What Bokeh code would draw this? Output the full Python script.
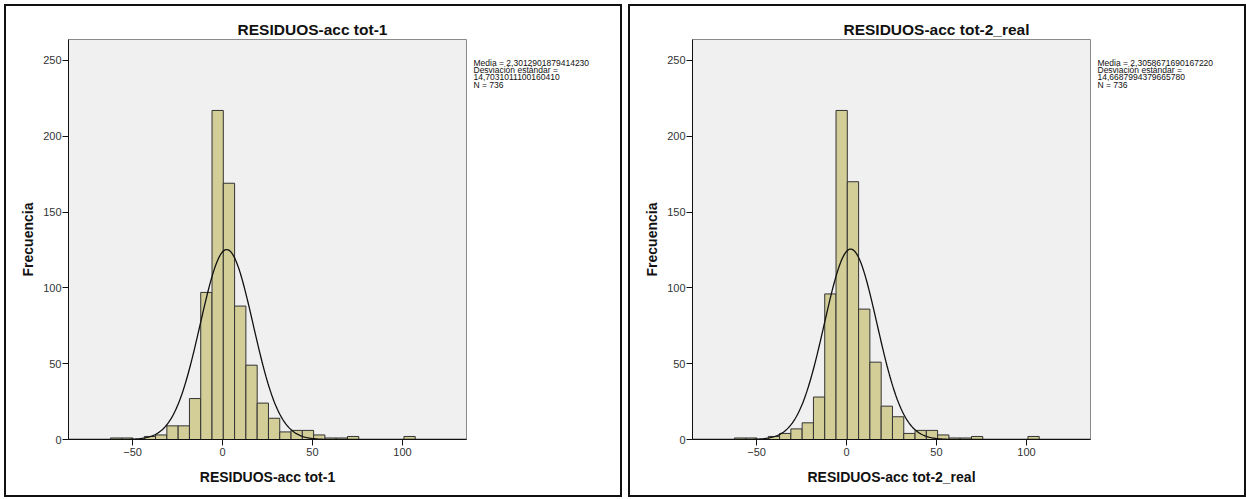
import numpy as np
from bokeh.plotting import figure
from bokeh.models import FixedTicker, Range1d, LinearAxis, AllLabels
from bokeh.layouts import row
from bokeh.embed import file_html
from bokeh.resources import INLINE

# Histogram bins shared by both residual series
bin_start = -62.3
bin_width = 6.274
counts_1 = [1, 1, 0, 2, 3, 9, 9, 27, 97, 217, 169, 88, 49, 24, 14, 5, 6, 6, 3, 1, 1, 2, 0, 0, 0, 0, 2]
counts_2 = [1, 1, 0, 2, 4, 7, 11, 28, 96, 217, 170, 86, 51, 22, 15, 4, 6, 6, 3, 1, 1, 2, 0, 0, 0, 0, 2]

titles = ["RESIDUOS-acc tot-1", "RESIDUOS-acc tot-2_real"]
means = [2.3012901879414230, 2.3058671690167220]
sds = [14.7031011100160410, 14.6687994379665780]
mean_texts = ["2,3012901879414230", "2,3058671690167220"]
sd_texts = ["14,7031011100160410", "14,6687994379665780"]
n_obs = 736

x_ticks = [-50, 0, 50, 100]
y_ticks = [0, 50, 100, 150, 200, 250]

FONT = "Liberation Sans"
BAR_FILL = "#d3ce97"
X_LO, X_HI = -85.6, 135.6
Y_HI = 263.8
TITLE_PX = 15.5
# vertical slots (in count units) for the four summary lines beside the frame
STAT_ROWS = [248.4, 243.6, 238.8, 234.0]

# Advance widths (em) of the bold sans glyphs used in the titles
BOLD_EM = {"R": .722, "E": .667, "S": .667, "I": .278, "D": .722, "U": .722, "O": .778,
           "-": .333, "a": .556, "c": .556, " ": .278, "t": .333, "o": .611, "1": .556,
           "2": .556, "_": .556, "r": .389, "e": .556, "l": .278}


def text_width(s, size):
    return sum(BOLD_EM.get(ch, .6) for ch in s) * size


def panel(counts, title, mean, sd, mean_txt, sd_txt):
    edges = bin_start + bin_width * np.arange(len(counts) + 1)
    left_b, right_b = 62, 158
    p = figure(width=618, height=493, output_backend="svg", toolbar_location=None,
               x_range=Range1d(X_LO, X_HI), y_range=Range1d(0, Y_HI),
               min_border_left=left_b, min_border_right=right_b,
               min_border_top=33, min_border_bottom=60,
               background_fill_color="#f0f0f0", border_fill_color="white",
               styles={"border": "2px solid #111111"})
    p.grid.visible = False
    p.outline_line_color = "#8a8a8a"
    p.outline_line_width = 1

    # Title centred over the whole panel rather than the frame
    panel_centre = 306 - left_b
    p.title.text = title
    p.title.align = "left"
    p.title.offset = panel_centre - text_width(title, TITLE_PX) / 2
    p.title.standoff = 4
    p.title.text_font = FONT
    p.title.text_font_size = "%gpx" % TITLE_PX
    p.title.text_font_style = "bold"
    p.title.text_color = "#111111"

    p.quad(left=edges[:-1], right=edges[1:], bottom=0, top=counts,
           fill_color=BAR_FILL, line_color="#333333", line_width=1)

    # Fitted normal curve scaled to counts
    xs = np.linspace(X_LO, X_HI, 400)
    ys = n_obs * bin_width / (sd * np.sqrt(2 * np.pi)) * np.exp(-0.5 * ((xs - mean) / sd) ** 2)
    p.line(xs, ys, line_color="#111111", line_width=1.3)

    for ax, ticks in ((p.xaxis, x_ticks), (p.yaxis, y_ticks)):
        ax.ticker = FixedTicker(ticks=ticks)
        ax.minor_tick_line_color = None
        ax.major_tick_in = 0
        ax.major_tick_out = 6
        ax.axis_line_color = "#111111"
        ax.major_tick_line_color = "#111111"
        ax.major_label_text_font = FONT
        ax.major_label_text_font_size = "11px"
        ax.major_label_text_color = "#333333"
        ax.axis_label_text_font = FONT
        ax.axis_label_text_font_size = "14px"
        ax.axis_label_text_font_style = "bold"
        ax.axis_label_text_color = "#111111"
    p.xaxis.axis_label = title
    p.xaxis.major_label_standoff = 2
    p.xaxis.axis_label_standoff = 10
    p.yaxis.axis_label = "Frecuencia"
    p.yaxis.major_label_standoff = 1
    p.yaxis.axis_label_standoff = 4

    # Summary statistics listed to the right of the frame
    stats = ["Media = " + mean_txt, "Desviación estándar =", sd_txt, "N = %d" % n_obs]
    stat_axis = LinearAxis(ticker=FixedTicker(ticks=STAT_ROWS),
                           major_label_overrides={t: s for t, s in zip(STAT_ROWS, stats)},
                           major_label_policy=AllLabels(),
                           axis_line_color=None, major_tick_line_color=None,
                           minor_tick_line_color=None, major_tick_in=0, major_tick_out=0,
                           major_label_standoff=7,
                           major_label_text_font=FONT, major_label_text_font_size="8.5px",
                           major_label_text_color="#111111")
    p.add_layout(stat_axis, "right")
    return p


p1 = panel(counts_1, titles[0], means[0], sds[0], mean_texts[0], sd_texts[0])
p2 = panel(counts_2, titles[1], means[1], sds[1], mean_texts[1], sd_texts[1])
layout = row(p1, p2, spacing=6, margin=(4, 0, 0, 4))

open("out.html", "w").write(file_html(layout, INLINE))
